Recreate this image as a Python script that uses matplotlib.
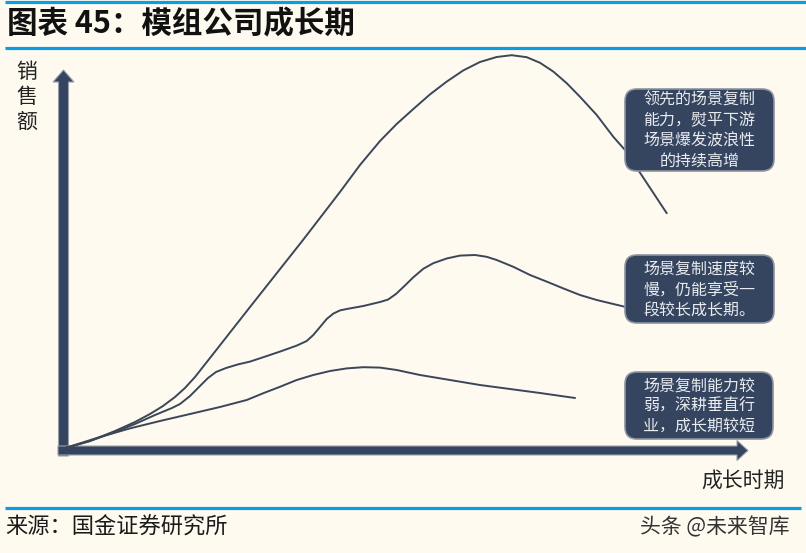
import matplotlib
matplotlib.use('Agg')
import matplotlib.pyplot as plt
from matplotlib.patches import FancyArrow, FancyBboxPatch

plt.rcParams['font.family'] = ['Noto Sans CJK SC', 'DejaVu Sans']

# curves: time (0-100) vs sales (0-100)
time_lead = [0, 4, 7.57, 10.43, 12.57, 14.43, 16.14, 17.57, 19, 21.14, 26.86, 34.43, 39.71,
             42.57, 45.43, 47.81, 50.19, 52.57, 54.96, 57.33, 59.71, 62.1, 64.24, 66.39,
             68.29, 70.19, 72.1, 74, 76.39, 78.76, 80.43, 86.39]
sales_lead = [0.25, 2.25, 4.75, 7, 9, 11, 13.25, 15.5, 18.25, 23, 35.75, 52.5, 64.5,
              71.25, 77.25, 81.5, 85.25, 88.9, 92.1, 94.9, 97, 98.25, 98.7, 98.2,
              96.8, 94.6, 91.7, 88.3, 83.75, 78.3, 75, 59.2]

time_mid = [0, 4, 7.57, 10.43, 13.29, 15.71, 16.86, 18.29, 19.71, 20.86, 22, 23.43, 25.14,
            26.86, 28.76, 31.14, 33.53, 34.96, 35.9, 36.86, 37.81, 38.76, 39.71, 40.67,
            43.04, 45.43, 46.57, 47.71, 48.86, 50.14, 51.61, 53.04, 55, 56.86, 59, 60.67,
            62.1, 64.47, 66.86, 69.24, 71.61, 74, 76.39, 78.76, 80.43]
sales_mid = [0.25, 2.25, 4.5, 6.5, 8.75, 10.5, 11.5, 13.5, 16, 18, 19.5, 20.5, 21.4,
             22.1, 23.2, 24.6, 26.1, 27.25, 28.75, 30.75, 32.75, 34.1, 34.9, 35.25,
             36, 37, 37.6, 39, 40.9, 43.1, 45.3, 46.7, 47.9, 48.6, 48.75, 48.3,
             47.5, 45.8, 43.75, 42.1, 40.4, 38.75, 37.5, 36.5, 35.8]

time_weak = [0, 5.43, 9.71, 14, 18.29, 22.57, 26.39, 28.76, 31.14, 33.53, 35.9, 38.29,
             40.67, 43.04, 45.43, 47.81, 51.14, 55.43, 59.71, 64, 68.29, 73.29]
sales_weak = [0.25, 3.25, 5.4, 7.25, 9, 10.75, 12.5, 14.2, 15.8, 17.5, 18.75, 19.75,
              20.4, 20.7, 20.6, 20, 18.75, 17.5, 16.25, 15.25, 14.25, 13]

notes = ['领先的场景复制\n能力，熨平下游\n场景爆发波浪性\n的持续高增',
         '场景复制速度较\n慢，仍能享受一\n段较长成长期。',
         '场景复制能力较\n弱，深耕垂直行\n业，成长期较短']

bg_col = '#FEFAEF'
navy = '#36455F'
blue = '#0C9DE0'

fig = plt.figure(figsize=(8.06, 5.53), dpi=100, facecolor=bg_col)

# pixel canvas for decoration, behind the curves
bg = fig.add_axes([0, 0, 1, 1], zorder=0)
bg.set_xlim(0, 806)
bg.set_ylim(553, 0)
bg.axis('off')

# chart axes for the curves
ax = fig.add_axes([62 / 806, (553 - 450) / 553, 700 / 806, 400 / 553], zorder=1)
ax.set_xlim(0, 100)
ax.set_ylim(0, 100)
ax.axis('off')
ax.patch.set_alpha(0)

# pixel canvas in front for the call-out boxes
fg = fig.add_axes([0, 0, 1, 1], zorder=2)
fg.set_xlim(0, 806)
fg.set_ylim(553, 0)
fg.axis('off')
fg.patch.set_alpha(0)

# header / footer lines
for y in [1.5, 48, 508]:
    bg.plot([5, 806 if y < 100 else 801], [y, y], color=blue, lw=2.3, solid_capstyle='butt')

bg.text(7, 24, '图表 45：模组公司成长期', fontsize=22, fontweight='bold',
        va='center', ha='left', color='#111111')
bg.text(5, 527, '来源：国金证券研究所', fontsize=16, va='center', ha='left', color='#1a1a1a')
bg.text(790, 527, '头条 @未来智库', fontsize=15, va='center', ha='right', color='#333333')

# axis arrows
bg.add_patch(FancyArrow(63.5, 456, 0, -386, width=10, head_width=21, head_length=12,
                        length_includes_head=True, fc=navy, ec='#9aa0aa', lw=0.8))
bg.add_patch(FancyArrow(58, 450.5, 690, 0, width=9, head_width=20, head_length=11,
                        length_includes_head=True, fc=navy, ec='#9aa0aa', lw=0.8))
bg.text(27, 97, '销\n售\n额', fontsize=15, va='center', ha='center',
        linespacing=1.15, color='#222222')
bg.text(743, 481, '成长时期', fontsize=15, va='center', ha='center', color='#222222')

# curves
for t, s in [(time_lead, sales_lead), (time_mid, sales_mid), (time_weak, sales_weak)]:
    ax.plot(t, s, color='#3b4659', lw=1.4, solid_capstyle='round',
            solid_joinstyle='round', clip_on=False)

# call-out boxes
boxes = [(625, 89, 149, 82), (625, 255, 149, 68), (625, 372, 148, 67)]
for (x, y, w, h), txt in zip(boxes, notes):
    fg.add_patch(FancyBboxPatch((x, y), w, h, boxstyle='round,pad=0,rounding_size=12',
                                fc=navy, ec='#8c93a0', lw=1.2))
    fg.text(x + w / 2, y + h / 2 + 1, txt, fontsize=11.5, color='#E8EBF0',
            ha='center', va='center', multialignment='center', linespacing=1.25)

fig.savefig('out.png', dpi=100, facecolor=bg_col)
